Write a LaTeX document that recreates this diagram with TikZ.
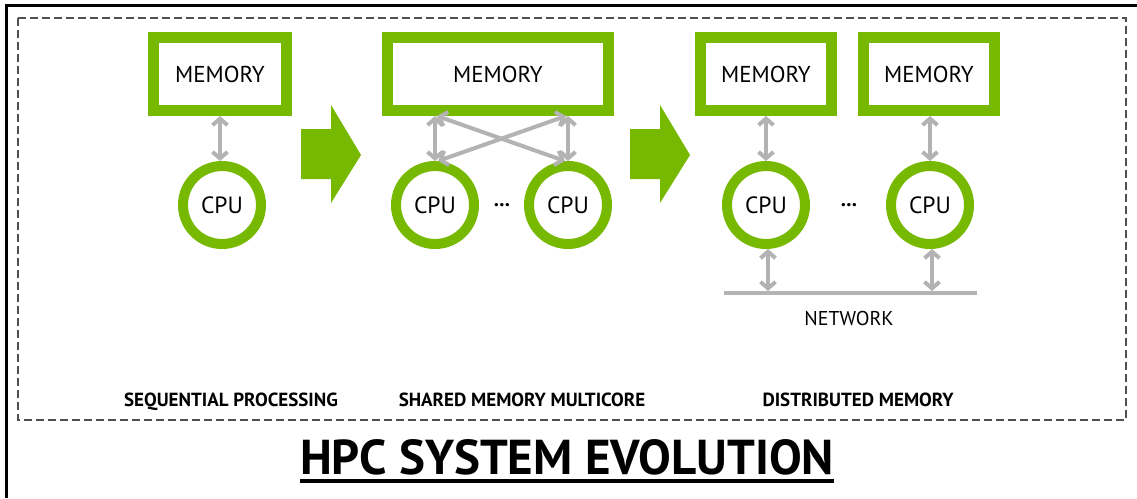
\documentclass[tikz,border=0pt]{standalone}
\usepackage{fontspec}
\setmainfont{PT Sans}
\usetikzlibrary{arrows.meta}
\definecolor{nvgreen}{HTML}{76B900}
\definecolor{linkgray}{HTML}{B3B3B3}
\definecolor{framegray}{HTML}{505050}
\begin{document}
\begin{tikzpicture}[x=1pt,y=-1pt,
  membox/.style={draw=nvgreen, line width=11pt, fill=white, minimum height=73pt,
    inner sep=0pt, font=\fontsize{23}{26}\selectfont},
  cpunode/.style={circle, draw=nvgreen, line width=10pt, minimum size=78pt,
    inner sep=0pt, font=\fontsize{23.5}{26}\selectfont},
  link/.style={draw=linkgray, line width=4pt,
    {Straight Barb[length=6.5pt,width=15pt]}-{Straight Barb[length=6.5pt,width=15pt]}},
  caption/.style={anchor=base, font=\fontsize{19}{22}\selectfont\bfseries},
  bigarrow/.style={fill=nvgreen},
  frame/.style={line width=3pt, black},
  panel/.style={draw=framegray, line width=2.5pt, dash pattern=on 8pt off 4pt},
]
\useasboundingbox (0,0) rectangle (1137,498);
\fill[white] (0,0) rectangle (1137,498);

% outer frame (top and left edges) and dashed panel
\draw[frame] (1137,5.5) -- (6.5,5.5) -- (6.5,498);
\draw[panel] (18,18) rectangle (1126,420);

% sequential processing
\node[membox, minimum width=133pt] (mem1) at (220,74) {MEMORY};
\node[cpunode] (cpu1) at (222,205) {CPU};
\draw[link] (mem1.south) -- (mem1.south |- cpu1.north);

% big arrows between the stages
\fill[bigarrow] (301,129) -- (331,129) -- (331,105) -- (361,155)
  -- (331,203) -- (331,179) -- (301,179) -- cycle;
\fill[bigarrow] (630,129) -- (660,129) -- (660,105) -- (690,155)
  -- (660,203) -- (660,179) -- (630,179) -- cycle;

% shared memory multicore
\node[membox, minimum width=221pt] (mem2) at (498,74) {MEMORY};
\node[cpunode] (cpu2a) at (435,205) {CPU};
\node[cpunode] (cpu2b) at (568,205) {CPU};
\node[anchor=base, font=\fontsize{21}{22}\selectfont] (dots2) at (502,206) {\bfseries ...};
\coordinate (m2a) at (mem2.south -| cpu2a.north);
\coordinate (m2b) at (mem2.south -| cpu2b.north);
\draw[link] (m2a) -- (cpu2a.north);
\draw[link] (m2b) -- (cpu2b.north);
\draw[link] ([xshift=2pt]m2a) -- ([xshift=-3pt]cpu2b.north);
\draw[link] ([xshift=-2pt]m2b) -- ([xshift=3pt]cpu2a.north);

% distributed memory
\node[membox, minimum width=131pt] (mem3a) at (766,74) {MEMORY};
\node[membox, minimum width=131pt] (mem3b) at (929,74) {MEMORY};
\node[cpunode] (cpu3a) at (766,205) {CPU};
\node[cpunode] (cpu3b) at (930,205) {CPU};
\node[anchor=base, font=\fontsize{21}{22}\selectfont] (dots3) at (849,206) {\bfseries ...};
\draw[link] (mem3a.south) -- (cpu3a.north);
\draw[link] (mem3b.south -| cpu3b.north) -- (cpu3b.north);

\coordinate (netL) at (724,293);
\coordinate (netR) at (977,293);
\draw[draw=linkgray, line width=4pt] (netL) -- (netR);
\draw[link, shorten >=2pt] ([xshift=2pt]cpu3a.south) -- ([xshift=2pt]cpu3a.south |- netL);
\draw[link, shorten >=2pt] ([xshift=2pt]cpu3b.south) -- ([xshift=2pt]cpu3b.south |- netL);
\node[anchor=base, font=\fontsize{20}{22}\selectfont] (net) at (849,325) {NETWORK};

% stage captions
\node[caption] (cap1) at (231,406) {SEQUENTIAL PROCESSING};
\node[caption] (cap2) at (522,406) {SHARED MEMORY MULTICORE};
\node[caption] (cap3) at (858,406) {DISTRIBUTED MEMORY};

% title
\node[anchor=base, inner sep=0pt, font=\fontsize{49}{54}\selectfont\bfseries] (title) at (567,474) {HPC SYSTEM EVOLUTION};
\draw[line width=4pt] ([yshift=-7pt]title.base west) -- ([yshift=-7pt]title.base east);
\end{tikzpicture}
\end{document}
